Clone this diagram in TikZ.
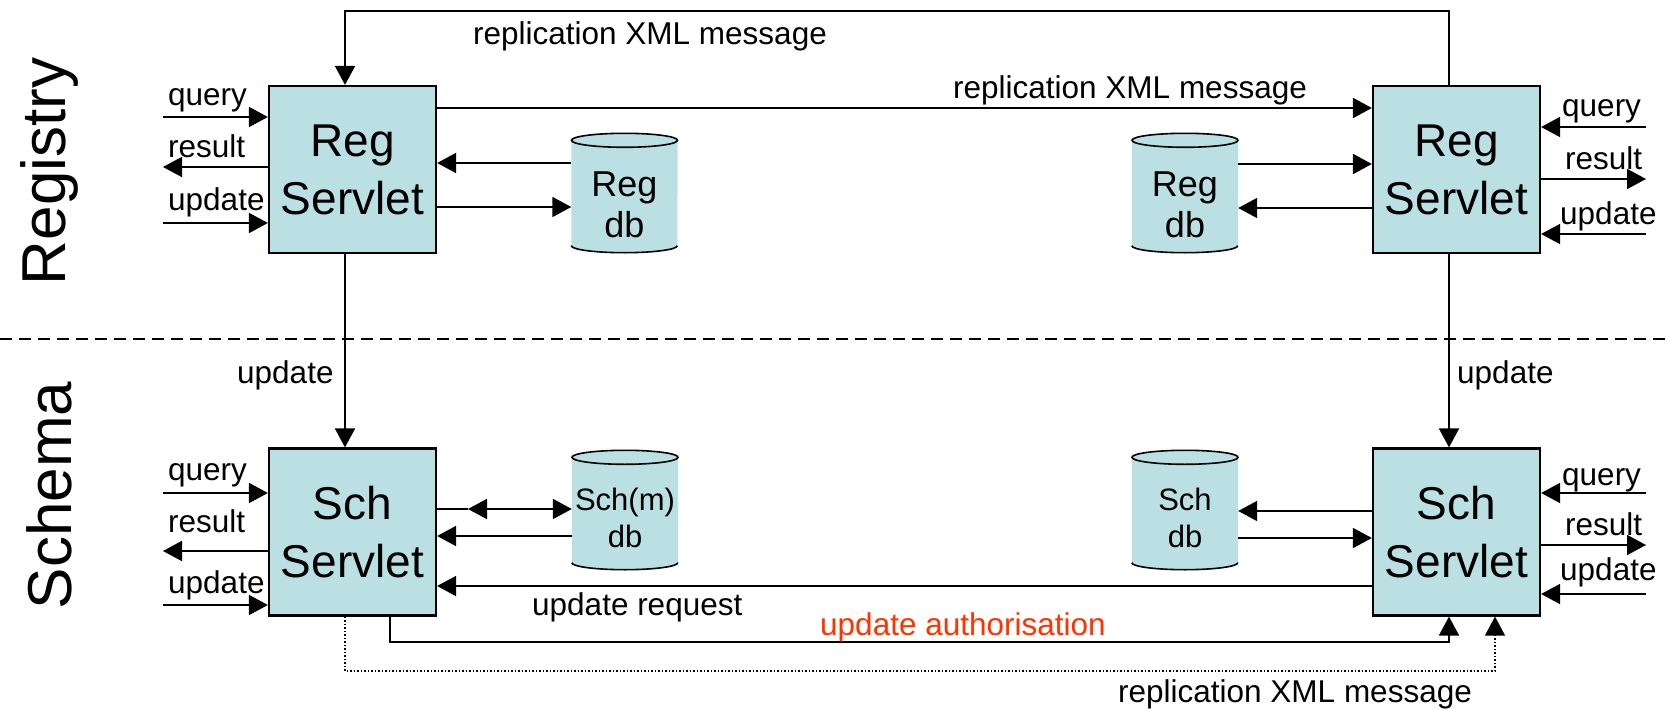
\documentclass[tikz,border=0pt]{standalone}
\usepackage{fontspec}
\setmainfont{Liberation Sans}
\usetikzlibrary{arrows.meta,backgrounds}
\definecolor{boxfill}{RGB}{187,224,227}
\definecolor{authred}{RGB}{255,51,0}
\tikzset{
  servlet/.style={draw, line width=2.2pt, fill=boxfill, minimum width=167pt,
    minimum height=167pt, inner sep=0pt, align=center,
    font=\fontsize{46}{58}\selectfont},
  dbbody/.style={minimum width=106pt, minimum height=119pt, inner sep=0pt},
  regdbtxt/.style={inner sep=0pt, align=center, font=\fontsize{36}{41}\selectfont},
  schdbtxt/.style={inner sep=0pt, align=center, font=\fontsize{31}{37}\selectfont},
  lbl/.style={inner sep=0pt, font=\fontsize{31.5}{36}\selectfont},
  side/.style={inner sep=0pt, rotate=90, font=\fontsize{62}{62}\selectfont},
  tip/.style={-{Triangle[length=19pt,width=20pt]}},
  wire/.style={line width=1.8pt},
  arr/.style={wire, tip},
  dotwire/.style={line width=1.3pt, dash pattern=on 1.5pt off 2pt, tip},
  sepline/.style={line width=1.6pt, dash pattern=on 12pt off 7pt},
}
% database drum behind a named node
\newcommand\dbdrum[1]{%
  \fill[boxfill] ([yshift=-7pt]#1.north west) -- ([yshift=7pt]#1.south west)
    arc[start angle=180, end angle=360, x radius=53pt, y radius=7pt]
    -- ([yshift=-7pt]#1.north east)
    arc[start angle=0, end angle=180, x radius=53pt, y radius=7pt] -- cycle;
  \draw[line width=1.6pt] ([yshift=7pt]#1.south west)
    arc[start angle=180, end angle=360, x radius=53pt, y radius=7pt];
  \draw[line width=1.6pt] ([yshift=-7pt]#1.north)
    ellipse[x radius=53pt, y radius=7pt];}

\begin{document}
\begin{tikzpicture}[x=1pt,y=-1pt]
\useasboundingbox (0,0) rectangle (1666,709);

% servlets
\node[servlet] (regL) at (352.5,169.5) {Reg\\Servlet};
\node[servlet] (regR) at (1456.5,169.5) {Reg\\Servlet};
\node[servlet] (schL) at (352.5,532) {Sch\\Servlet};
\node[servlet] (schR) at (1456.5,532) {Sch\\Servlet};

% databases
\node[dbbody] (rdbL) at (624.5,193) {};
\node[dbbody] (rdbR) at (1185,193) {};
\node[dbbody] (sdbL) at (625,510) {};
\node[dbbody] (sdbR) at (1185,510) {};
\begin{scope}[on background layer]
  \dbdrum{rdbL}\dbdrum{rdbR}\dbdrum{sdbL}\dbdrum{sdbR}
\end{scope}
\node[regdbtxt] (rdbLt) at (624.5,205) {Reg\\db};
\node[regdbtxt] (rdbRt) at (1185,205) {Reg\\db};
\node[schdbtxt] (sdbLt) at (625,518) {Sch(m)\\db};
\node[schdbtxt] (sdbRt) at (1185,518) {Sch\\db};

% layer titles and separator
\node[side] (tReg) at (49,171.5) {Registry};
\node[side] (tSch) at (49,495.5) {Schema};
\coordinate (sepL) at (0,339);
\coordinate (sepR) at (1666,339);
\draw[sepline] (sepL) -- (sepR);

% client side of the left servlets
\coordinate (qLr) at (163,117);
\coordinate (rLr) at (163,167);
\coordinate (uLr) at (163,223);
\draw[arr] (qLr) -- (qLr -| regL.west);
\draw[arr] (regL.west |- rLr) -- (rLr);
\draw[arr] (uLr) -- (uLr -| regL.west);
\node[lbl, anchor=base west] (qLrl) at (168,105) {query};
\node[lbl, anchor=base west] (rLrl) at (168,157) {result};
\node[lbl, anchor=base west] (uLrl) at (168,210) {update};

\coordinate (qLs) at (163,493);
\coordinate (rLs) at (163,551);
\coordinate (uLs) at (163,605);
\draw[arr] (qLs) -- (qLs -| schL.west);
\draw[arr] (schL.west |- rLs) -- (rLs);
\draw[arr] (uLs) -- (uLs -| schL.west);
\node[lbl, anchor=base west] (qLsl) at (168,480) {query};
\node[lbl, anchor=base west] (rLsl) at (168,532) {result};
\node[lbl, anchor=base west] (uLsl) at (168,593) {update};

% client side of the right servlets
\coordinate (qRr) at (1646,127);
\coordinate (rRr) at (1646,179);
\coordinate (uRr) at (1646,234);
\draw[arr] (qRr) -- (qRr -| regR.east);
\draw[arr] (regR.east |- rRr) -- (rRr);
\draw[arr] (uRr) -- (uRr -| regR.east);
\node[lbl, anchor=base west] (qRrl) at (1562,117) {query};
\node[lbl, anchor=base west] (rRrl) at (1565,169) {result};
\node[lbl, anchor=base west] (uRrl) at (1560,224) {update};

\coordinate (qRs) at (1646,493);
\coordinate (rRs) at (1646,545);
\coordinate (uRs) at (1646,594);
\draw[arr] (qRs) -- (qRs -| schR.east);
\draw[arr] (schR.east |- rRs) -- (rRs);
\draw[arr] (uRs) -- (uRs -| schR.east);
\node[lbl, anchor=base west] (qRsl) at (1562,485) {query};
\node[lbl, anchor=base west] (rRsl) at (1565,535) {result};
\node[lbl, anchor=base west] (uRsl) at (1560,580) {update};

% servlet <-> database traffic
\draw[arr] ([yshift=30pt]rdbL.west) -- ([yshift=30pt]rdbL.west -| regL.east);
\draw[arr] ([yshift=-14pt]rdbL.west -| regL.east) -- ([yshift=-14pt]rdbL.west);
\draw[arr] ([yshift=29pt]rdbR.east) -- ([yshift=29pt]rdbR.east -| regR.west);
\draw[arr] ([yshift=-15pt]rdbR.east -| regR.west) -- ([yshift=-15pt]rdbR.east);

\coordinate (dblk) at (468,509);
\draw[wire] (dblk -| schL.east) -- (dblk);
\draw[wire, {Triangle[length=19pt,width=20pt]}-{Triangle[length=19pt,width=20pt]}]
  (dblk) -- (dblk -| sdbL.west);
\draw[arr] ([yshift=-26pt]sdbL.west) -- ([yshift=-26pt]sdbL.west -| schL.east);
\draw[arr] ([yshift=-1pt]sdbR.east -| schR.west) -- ([yshift=-1pt]sdbR.east);
\draw[arr] ([yshift=-28pt]sdbR.east) -- ([yshift=-28pt]sdbR.east -| schR.west);

% registry replication
\draw[arr] ([yshift=61.5pt]regL.east) -- ([yshift=61.5pt]regL.east -| regR.west);
\node[lbl, anchor=base west] (repMid) at (953,99) {replication XML message};
\coordinate (topR) at (1449,11);
\coordinate (topL) at (345,11);
\draw[arr] (topR |- regR.north) -- (topR) -- (topL) -- (topL |- regL.north);
\node[lbl, anchor=base west] (repTop) at (473,45) {replication XML message};

% registry -> schema updates
\draw[arr] (topL |- regL.south) -- (topL |- schL.north);
\node[lbl, anchor=base west] (updL) at (237,383) {update};
\draw[arr] (topR |- regR.south) -- (topR |- schR.north);
\node[lbl, anchor=base west] (updR) at (1457,383) {update};

% schema update protocol
\draw[arr] ([yshift=-54pt]schR.west) -- ([yshift=-54pt]schR.west -| schL.east);
\node[lbl, anchor=base west] (ureq) at (532,615) {update request};

\coordinate (authL) at (390,642);
\coordinate (authR) at (1449,642);
\draw[arr] (authL |- schL.south) -- (authL) -- (authR) -- (authR |- schR.south);
\node[lbl, anchor=base west, text=authred] (auth) at (820,635) {update authorisation};

\coordinate (repL) at (345,671);
\coordinate (repR) at (1495,671);
\draw[dotwire] (repL |- schL.south) -- (repL) -- (repR) -- (repR |- schR.south);
\node[lbl, anchor=base west] (repBot) at (1118,702) {replication XML message};
\end{tikzpicture}
\end{document}
